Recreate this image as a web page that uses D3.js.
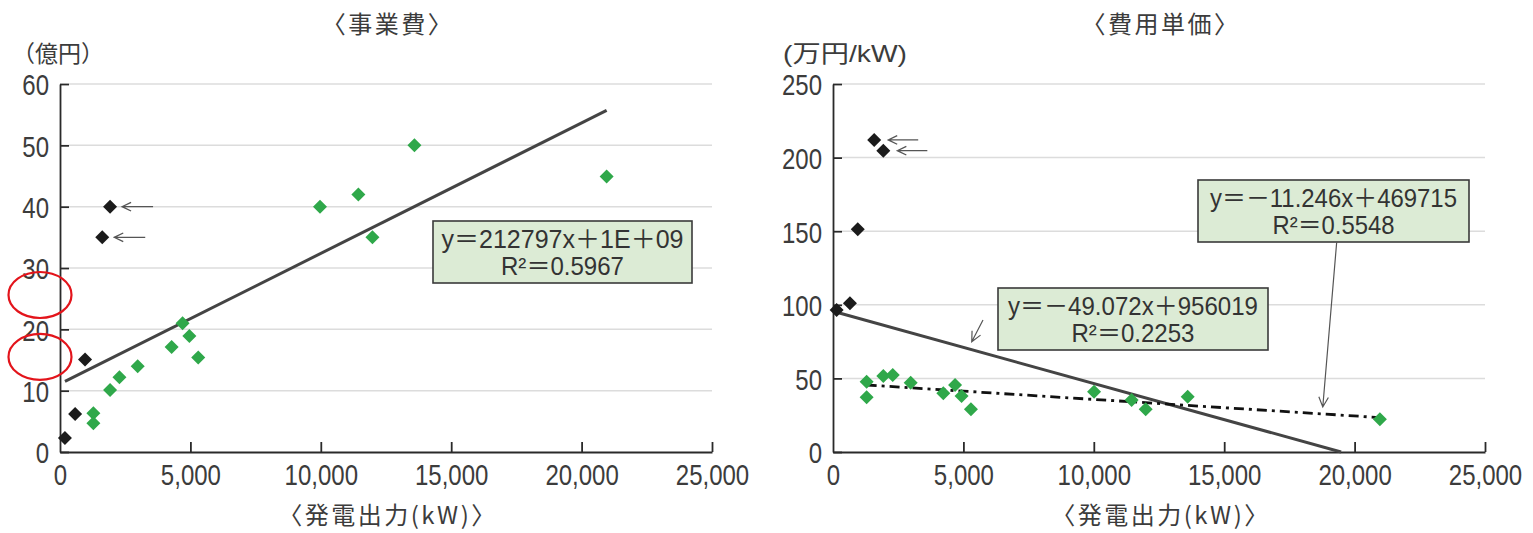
<!DOCTYPE html>
<html>
<head>
<meta charset="utf-8">
<script src="https://cdn.jsdelivr.net/npm/d3@7"></script>
<style>
  body { margin: 0; background: #fff; }
</style>
</head>
<body>
<div id="chart"></div>
<script>

// 事業費 (億円) vs 発電出力 (kW)
var costBlackX = [190, 580, 960, 1620, 1920];
var costBlackY = [2.3, 6.2, 15.1, 35, 40];
var costGreenX = [1280, 1280, 1920, 2280, 2980, 4280, 4700, 4960, 5300, 9970, 11440, 11980, 13590, 20960];
var costGreenY = [6.3, 4.7, 10.1, 12.2, 14.0, 17.1, 21.0, 18.9, 15.4, 40, 42, 35, 50, 44.9];

// 費用単価 (万円/kW) vs 発電出力 (kW)
var unitBlackX = [140, 650, 950, 1580, 1930];
var unitBlackY = [96.5, 101, 151.3, 212, 204.7];
var unitGreenX = [1290, 1290, 1930, 2290, 2980, 4230, 4680, 4930, 5290, 10010, 11450, 11990, 13600, 20970];
var unitGreenY = [47.8, 37.2, 51.6, 52.3, 47.1, 39.9, 45.5, 38, 29, 41, 35.3, 29, 37.6, 22.2];

// tick values
var xTicks = [0, 5000, 10000, 15000, 20000, 25000];
var costTicks = [0, 10, 20, 30, 40, 50, 60];
var unitTicks = [0, 50, 100, 150, 200, 250];

// trend lines, y = a*x + b in chart units
var costTrend = { a: 0.0021280, b: 11.1 };
var unitTrendAll = { a: -0.0049072, b: 95.6019 };
var unitTrendGreen = { a: -0.0011246, b: 46.9715 };

var costEq = ["y＝212797x＋1E＋09", "R²＝0.5967"];
var unitEqAll = ["y＝－49.072x＋956019", "R²＝0.2253"];
var unitEqGreen = ["y＝－11.246x＋469715", "R²＝0.5548"];

var green = "#2fa84a";
var dark = "#1b1b1b";
var textColor = "#3c3c3c";
var jpFont = "'Noto Sans CJK JP', sans-serif";
var numFont = "'Liberation Sans', 'Noto Sans CJK JP', sans-serif";

var svg = d3.select("#chart")
    .append("svg")
    .attr("width", 1533)
    .attr("height", 533);

var plotTop = 84, plotBottom = 452;

// squeeze text horizontally (source font is condensed)
function squeeze(sel, k) {
    sel.each(function() {
        var w = this.getComputedTextLength();
        d3.select(this).attr("textLength", w * k).attr("lengthAdjust", "spacingAndGlyphs");
    });
}

function fit(sel, w) {
    sel.attr("textLength", w).attr("lengthAdjust", "spacingAndGlyphs");
}

// open arrow from (x1,y1) to (x2,y2)
function arrow(g, x1, y1, x2, y2, len, width) {
    var ang = Math.atan2(y2 - y1, x2 - x1);
    var a1 = ang + Math.PI - 0.45, a2 = ang + Math.PI + 0.45;
    g.append("path")
        .attr("d", "M" + x1 + "," + y1 + "L" + x2 + "," + y2 +
            "M" + (x2 + len * Math.cos(a1)) + "," + (y2 + len * Math.sin(a1)) +
            "L" + x2 + "," + y2 +
            "L" + (x2 + len * Math.cos(a2)) + "," + (y2 + len * Math.sin(a2)))
        .attr("fill", "none")
        .attr("stroke", "#555")
        .attr("stroke-width", width || 1.3);
}

function diamonds(g, xs, ys, x, y, color) {
    g.selectAll(null)
        .data(xs.map(function(d, i) { return [d, ys[i]]; }))
        .enter()
        .append("path")
        .attr("d", d3.symbol().type(d3.symbolDiamond2).size(125))
        .attr("transform", function(d) { return "translate(" + x(d[0]) + "," + y(d[1]) + ")"; })
        .attr("fill", color);
}

function eqBox(g, x0, y0, w, lines, widths) {
    g.append("rect")
        .attr("x", x0).attr("y", y0)
        .attr("width", w).attr("height", 62)
        .attr("fill", "#dcebd5")
        .attr("stroke", "#3a3a3a")
        .attr("stroke-width", 1.6);
    lines.forEach(function(t, i) {
        g.append("text")
            .attr("x", x0 + w / 2)
            .attr("y", y0 + 27 + i * 27)
            .attr("text-anchor", "middle")
            .attr("font-family", numFont)
            .attr("font-size", 25)
            .attr("fill", "#333")
            .text(t)
            .call(fit, widths[i]);
    });
}

function drawPanel(left, right, yMax, yTicks) {
    var x = d3.scaleLinear().domain([0, 25000]).range([left, right]);
    var y = d3.scaleLinear().domain([0, yMax]).range([plotBottom, plotTop]);
    var g = svg.append("g");

    // gridlines
    g.append("g")
        .selectAll("line")
        .data(yTicks.filter(function(d) { return d > 0; }))
        .enter()
        .append("line")
        .attr("x1", left + 9).attr("x2", right)
        .attr("y1", y).attr("y2", y)
        .attr("stroke", "#dcdcdc")
        .attr("stroke-width", 1.5);

    // y axis
    var yAxis = g.append("g")
        .attr("transform", "translate(" + left + ",0)")
        .call(d3.axisLeft(y).tickValues(yTicks).tickSize(-9).tickSizeOuter(0).tickPadding(11));
    // x axis
    var xAxis = g.append("g")
        .attr("transform", "translate(0," + plotBottom + ")")
        .call(d3.axisBottom(x).tickValues(xTicks).tickSize(-10).tickSizeOuter(0).tickPadding(12)
            .tickFormat(d3.format(",")));

    [yAxis, xAxis].forEach(function(ax) {
        ax.select(".domain").attr("stroke", "#2a2a2a").attr("stroke-width", 1.8);
        ax.selectAll(".tick line").attr("stroke", "#2a2a2a").attr("stroke-width", 1.8);
        ax.selectAll(".tick text")
            .attr("font-family", numFont)
            .attr("font-size", 30)
            .attr("fill", textColor)
            .call(squeeze, 0.8);
    });
    xAxis.selectAll(".tick").filter(function(d) { return d === 0; }).select("line").remove();
    yAxis.selectAll(".tick text").attr("dy", "0.36em");

    return { x: x, y: y, g: g };
}

function trendPath(t, x, y, x0, x1) {
    var yMin = y.domain()[0];
    // clip where the line meets the x axis
    if (t.a < 0 && t.a * x1 + t.b < yMin) x1 = (yMin - t.b) / t.a;
    return d3.line()([[x(x0), y(t.a * x0 + t.b)], [x(x1), y(t.a * x1 + t.b)]]);
}

function title(g, cx, cy, t) {
    g.append("text")
        .attr("x", cx).attr("y", cy)
        .attr("text-anchor", "middle")
        .attr("font-family", jpFont).attr("font-size", 24)
        .attr("letter-spacing", 2.5)
        .attr("fill", textColor)
        .text(t);
}

// ---------- left: 事業費 ----------
var p1 = drawPanel(60, 712, 60, costTicks);

title(p1.g, 388, 33, "〈事業費〉");
title(p1.g, 388, 524, "〈発電出力(kW)〉");

p1.g.append("text")
    .attr("x", 12).attr("y", 62)
    .attr("font-family", jpFont).attr("font-size", 23)
    .attr("fill", textColor)
    .text("（億円）");

var allCostX = costBlackX.concat(costGreenX);
p1.g.append("path")
    .attr("d", trendPath(costTrend, p1.x, p1.y, d3.min(allCostX), d3.max(allCostX)))
    .attr("stroke", "#444").attr("stroke-width", 3).attr("fill", "none");

diamonds(p1.g, costBlackX, costBlackY, p1.x, p1.y, dark);
diamonds(p1.g, costGreenX, costGreenY, p1.x, p1.y, green);

// arrows marking the two outliers
[3, 4].forEach(function(i) {
    var px = p1.x(costBlackX[i]) + 12, py = p1.y(costBlackY[i]);
    arrow(p1.g, px + 31, py, px, py, 10);
});

eqBox(p1.g, 433, 221, 259, costEq, [242, 123]);

// red marks on the y axis
[25.6, 15.5].forEach(function(v) {
    p1.g.append("ellipse")
        .attr("cx", 40).attr("cy", p1.y(v))
        .attr("rx", 31.5).attr("ry", 23)
        .attr("fill", "none")
        .attr("stroke", "#e3141b")
        .attr("stroke-width", 2.2);
});

// ---------- right: 費用単価 ----------
var p2 = drawPanel(833, 1485, 250, unitTicks);

title(p2.g, 1161, 33, "〈費用単価〉");
title(p2.g, 1161, 524, "〈発電出力(kW)〉");

p2.g.append("text")
    .attr("x", 783).attr("y", 62)
    .attr("font-family", numFont).attr("font-size", 24)
    .attr("fill", textColor)
    .text("(万円/kW)")
    .call(fit, 124);

var allUnitX = unitBlackX.concat(unitGreenX);
p2.g.append("path")
    .attr("d", trendPath(unitTrendAll, p2.x, p2.y, d3.min(allUnitX), d3.max(allUnitX)))
    .attr("stroke", "#444").attr("stroke-width", 3).attr("fill", "none");

p2.g.append("path")
    .attr("d", trendPath(unitTrendGreen, p2.x, p2.y, d3.min(unitGreenX), d3.max(unitGreenX)))
    .attr("stroke", "#111").attr("stroke-width", 2.8).attr("fill", "none")
    .attr("stroke-dasharray", "10,5,3,5");

diamonds(p2.g, unitBlackX, unitBlackY, p2.x, p2.y, dark);
diamonds(p2.g, unitGreenX, unitGreenY, p2.x, p2.y, green);

[3, 4].forEach(function(i) {
    var px = p2.x(unitBlackX[i]) + 14, py = p2.y(unitBlackY[i]);
    arrow(p2.g, px + 30, py, px, py, 10);
});

eqBox(p2.g, 998, 288, 270, unitEqAll, [250, 123]);
eqBox(p2.g, 1198, 180, 271, unitEqGreen, [247, 122]);

// pointers from the equation boxes to their lines
var tx1 = 5320;
arrow(p2.g, 983, 320, p2.x(tx1), p2.y(unitTrendAll.a * tx1 + unitTrendAll.b) - 8, 11, 1.2);
var tx2 = 18780;
arrow(p2.g, 1336.7, 242, p2.x(tx2), p2.y(unitTrendGreen.a * tx2 + unitTrendGreen.b) - 7, 11, 1.2);

</script>
</body>
</html>
